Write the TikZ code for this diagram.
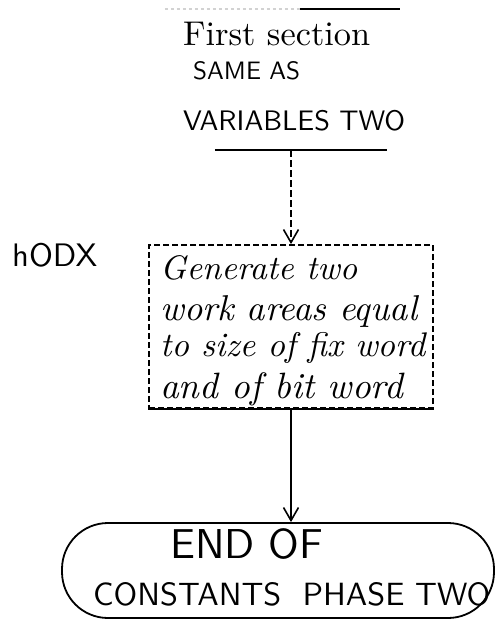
\documentclass[tikz,border=0pt]{standalone}
\usepackage{graphicx}
\usetikzlibrary{arrows.meta,calc}
% set a line of hand lettering to a given width
\newcommand{\hw}[2]{\resizebox{#1}{!}{\strut #2}}
\tikzset{
  pen/.style={line width=1.8pt, black},
  txt/.style={inner sep=0pt, anchor=west},
  tip/.style={-{Straight Barb[length=13pt,width=15pt,line width=1.6pt]}},
}
\begin{document}
\begin{tikzpicture}[x=1pt,y=-1pt]
\useasboundingbox (0,0) rectangle (496,624);

% --- first section (open box: top and bottom rules only)
\node[inner sep=0pt, minimum width=235pt, minimum height=141pt] (topbox) at (282.5,79.5) {};
\draw[line width=1.4pt, gray!35, dashed] (topbox.north west) -- ($(topbox.north east)+(-100,0)$);
\draw[pen] ($(topbox.north east)+(-100,0)$) -- (topbox.north east);
\draw[pen] ($(topbox.south west)+(50,0)$) -- ($(topbox.south east)+(-13,0)$);
\node[txt] (t1) at (183,37)  {\hw{187pt}{First section}};
\node[txt] (t2) at (193,73)  {\hw{107pt}{\sffamily SAME AS}};
\node[txt] (t3) at (183,124) {\hw{222pt}{\sffamily VARIABLES TWO}};

% --- side label
\node[txt] (lbl) at (12,259) {\hw{85pt}{\sffamily hODX}};

% --- generate work areas
\node[draw, pen, dashed, dash pattern=on 6pt off 3pt, inner sep=0pt,
      minimum width=284pt, minimum height=163pt] (mid) at (291,326.5) {};
\draw[pen] (mid.south west) -- (mid.south east);
\node[txt] (m1) at (160,271) {\hw{197pt}{\itshape Generate two}};
\node[txt] (m2) at (160,312) {\hw{257pt}{\itshape work areas equal}};
\node[txt] (m3) at (160,348) {\hw{265pt}{\itshape to size of fix word}};
\node[txt] (m4) at (160,390) {\hw{243pt}{\itshape and of bit word}};

% --- terminator
\node[draw, pen, rounded corners=46pt, inner sep=0pt,
      minimum width=432pt, minimum height=95pt] (term) at (278,570.5) {};
\node[txt] (e1) at (170,548) {\hw{153pt}{\sffamily END OF}};
\node[txt] (e2) at (93,598)  {\hw{397pt}{\sffamily CONSTANTS\ \ PHASE TWO}};

% --- connectors
\draw[pen, dashed, dash pattern=on 7pt off 3pt, tip] (mid.north |- topbox.south) -- (mid.north);
\draw[pen, tip] (mid.south) -- (mid.south |- term.north);
\end{tikzpicture}
\end{document}
